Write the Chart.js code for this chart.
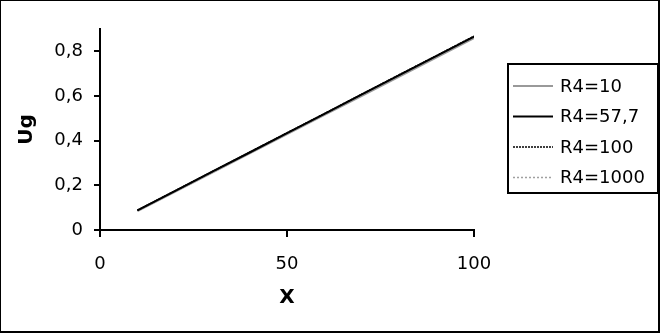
<!DOCTYPE html>
<html><head><meta charset="utf-8">
<script src="https://cdn.jsdelivr.net/npm/chart.js@4/dist/chart.umd.min.js"></script>
<style>html,body{margin:0;padding:0;background:#fff}#wrap{width:662px;height:334px}</style>
</head><body><div id="wrap"><canvas id="c" width="662" height="334"></canvas></div>
<script>
const xValues = [10, 20, 30, 40, 50, 60, 70, 80, 90, 100];
const seriesLabels = ['R4=10', 'R4=57,7', 'R4=100', 'R4=1000'];
const ugR4_10   = [0.086, 0.172, 0.258, 0.344, 0.430, 0.516, 0.602, 0.688, 0.774, 0.860];
const ugR4_57_7 = [0.088, 0.174, 0.261, 0.347, 0.434, 0.520, 0.607, 0.693, 0.780, 0.866];
const ugR4_100  = [0.088, 0.175, 0.261, 0.348, 0.435, 0.521, 0.608, 0.695, 0.781, 0.868];
const ugR4_1000 = [0.088, 0.174, 0.261, 0.348, 0.434, 0.521, 0.608, 0.694, 0.781, 0.867];
const yTicks = [0, 0.2, 0.4, 0.6, 0.8];
const xTicks = [0, 50, 100];

const toPts = arr => xValues.map((x, i) => ({x: x, y: arr[i]}));
const FONT = "'DejaVu Sans', sans-serif";

const styles = [
  {color: '#999999', width: 2.5, dash: [], order: 4},
  {color: '#000000', width: 2, dash: [], order: 1},
  {color: '#000000', width: 1.5, dash: [2, 1], order: 2},
  {color: '#a0a0a0', width: 1.5, dash: [2, 2], order: 3}
];
const seriesData = [ugR4_10, ugR4_57_7, ugR4_100, ugR4_1000];

const datasets = seriesData.map((arr, i) => ({
  label: seriesLabels[i],
  data: toPts(arr),
  showLine: true,
  borderColor: styles[i].color,
  backgroundColor: styles[i].color,
  borderWidth: styles[i].width,
  borderDash: styles[i].dash,
  pointRadius: 0,
  tension: 0,
  fill: false,
  order: styles[i].order
}));

const outerBorder = {
  id: 'outerBorder',
  afterDraw(chart) {
    const ctx = chart.ctx;
    ctx.save();
    ctx.strokeStyle = '#000';
    ctx.lineWidth = 2;
    ctx.strokeRect(0, 0, 659, 332);
    ctx.restore();
  }
};

const boxLegend = {
  id: 'boxLegend',
  afterDraw(chart) {
    const ctx = chart.ctx;
    const ca = chart.chartArea;
    const bx = ca.right + 34, by = 64, bw = 150, bh = 129;
    ctx.save();
    ctx.fillStyle = '#fff';
    ctx.fillRect(bx, by, bw, bh);
    ctx.strokeStyle = '#000';
    ctx.lineWidth = 2;
    ctx.strokeRect(bx, by, bw, bh);
    ctx.font = '18px ' + FONT;
    ctx.textBaseline = 'middle';
    ctx.textAlign = 'left';
    chart.data.datasets.forEach((ds, i) => {
      const y = by + 22 + i * 30.5;
      ctx.beginPath();
      ctx.strokeStyle = ds.borderColor;
      ctx.lineWidth = Math.min(ds.borderWidth, 2);
      ctx.setLineDash(ds.borderDash || []);
      ctx.moveTo(bx + 5, y);
      ctx.lineTo(bx + 45, y);
      ctx.stroke();
      ctx.setLineDash([]);
      ctx.fillStyle = '#000';
      ctx.fillText(ds.label, bx + 52, y + 1);
    });
    ctx.restore();
  }
};

const fmt = v => v === 0 ? '0' : (Math.round(v * 10) / 10).toString().replace('.', ',');

new Chart(document.getElementById('c'), {
  type: 'scatter',
  data: {datasets: datasets},
  options: {
    responsive: false,
    devicePixelRatio: 1,
    animation: false,
    layout: {padding: {left: 0, right: 188, top: 29, bottom: 0}},
    plugins: {legend: {display: false}, tooltip: {enabled: false}},
    scales: {
      x: {
        type: 'linear', min: 0, max: 100,
        afterBuildTicks: s => { s.ticks = xTicks.map(v => ({value: v})); },
        afterFit: s => { s.height = 104; },
        grid: {display: true, drawOnChartArea: false, drawTicks: true, tickLength: 7, lineWidth: 2, color: '#000'},
        border: {display: true, color: '#000', width: 2},
        ticks: {color: '#000', font: {family: FONT, size: 18}, padding: 17, maxRotation: 0, callback: v => fmt(v)},
        title: {display: true, text: 'X', color: '#000', font: {family: FONT, size: 20, weight: 'bold'}, padding: {top: 0, bottom: 24}}
      },
      y: {
        type: 'linear', min: 0, max: 0.9,
        afterBuildTicks: s => { s.ticks = yTicks.map(v => ({value: v})); },
        afterFit: s => { s.width = 100; },
        grid: {display: true, drawOnChartArea: false, drawTicks: true, tickLength: 6, lineWidth: 2, color: '#000'},
        border: {display: true, color: '#000', width: 2},
        ticks: {color: '#000', font: {family: FONT, size: 18}, padding: 11, callback: v => fmt(v)},
        title: {display: true, text: 'Ug', color: '#000', font: {family: FONT, size: 20, weight: 'bold'}, padding: {top: 15, bottom: 0}}
      }
    }
  },
  plugins: [outerBorder, boxLegend]
});
</script>
</body></html>
